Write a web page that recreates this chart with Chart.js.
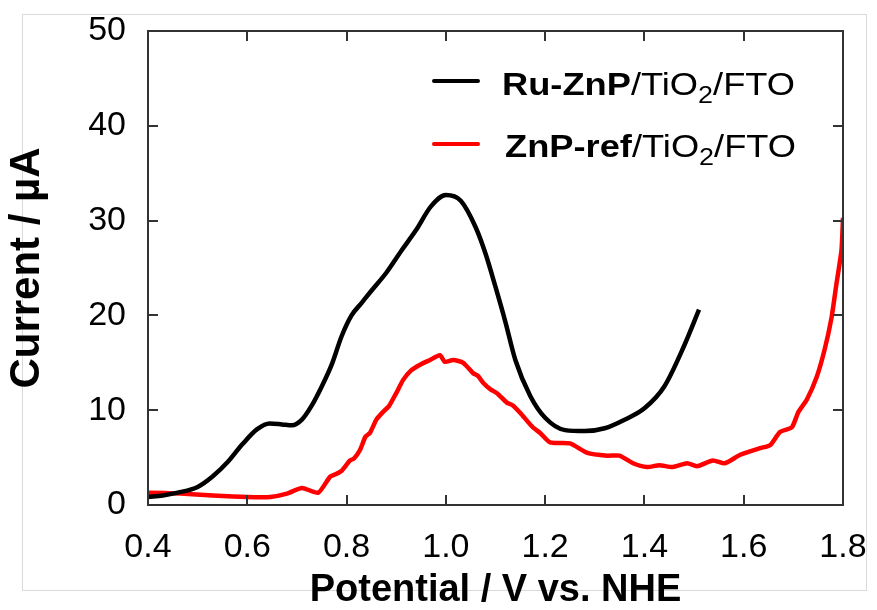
<!DOCTYPE html>
<html>
<head>
<meta charset="utf-8">
<script src="https://cdn.jsdelivr.net/npm/chart.js@4.4.1/dist/chart.umd.min.js"></script>
<style>
  html, body { margin: 0; padding: 0; background: #fff; }
  #wrap { width: 877px; height: 610px; }
</style>
</head>
<body>
<div id="wrap"><canvas id="cv" width="877" height="610"></canvas></div>
<script>
//================================ DATA

// Ru-ZnP/TiO2/FTO (smooth curve)
const ruX = [0.40, 0.43, 0.46, 0.50, 0.53, 0.56, 0.59, 0.62, 0.645, 0.67, 0.69, 0.71, 0.73, 0.75, 0.77,
  0.79, 0.81, 0.83, 0.85, 0.88, 0.91, 0.94, 0.97, 1.00, 1.03, 1.06, 1.08, 1.10, 1.12, 1.14, 1.17,
  1.20, 1.24, 1.28, 1.32, 1.36, 1.40, 1.44, 1.48, 1.51];
const ruY = [0.85, 1.0, 1.3, 1.9, 3.0, 4.5, 6.4, 8.0, 8.6, 8.5, 8.4, 9.0, 10.5, 12.5, 14.8,
  17.8, 20.0, 21.3, 22.6, 24.5, 26.8, 29.0, 31.5, 32.7, 32.1, 29.3, 26.5, 23.0, 19.3, 15.3, 11.5,
  9.2, 7.9, 7.8, 8.1, 9.0, 10.2, 12.5, 16.8, 20.6];

// ZnP-ref/TiO2/FTO (noisy curve)
const refX = [0.40, 0.465, 0.53, 0.60, 0.646, 0.68, 0.71, 0.743, 0.767, 0.78, 0.79, 0.807, 0.815, 0.827,
  0.838, 0.847, 0.86, 0.873, 0.885, 0.90, 0.914, 0.93, 0.948, 0.968, 0.988, 0.998, 1.015, 1.035,
  1.055, 1.065, 1.075, 1.09, 1.103, 1.123, 1.135, 1.15, 1.175, 1.19, 1.21, 1.25, 1.285, 1.325,
  1.35, 1.377, 1.405, 1.43, 1.457, 1.486, 1.506, 1.538, 1.562, 1.593, 1.633, 1.653, 1.673, 1.697,
  1.71, 1.727, 1.747, 1.763, 1.777, 1.787, 1.797, 1.80];
const refY = [1.3, 1.2, 1.0, 0.85, 0.85, 1.2, 1.8, 1.3, 3.0, 3.3, 3.6, 4.7, 4.9, 5.8,
  7.2, 7.6, 9.0, 9.8, 10.4, 11.8, 13.2, 14.2, 14.8, 15.3, 15.8, 15.1, 15.3, 15.0,
  13.9, 13.6, 12.9, 12.2, 11.8, 10.8, 10.5, 9.7, 8.2, 7.6, 6.6, 6.5, 5.5, 5.2,
  5.2, 4.4, 4.0, 4.2, 4.0, 4.4, 4.1, 4.7, 4.4, 5.3, 6.0, 6.3, 7.7, 8.2,
  9.8, 11.1, 13.5, 16.4, 19.8, 23.4, 26.9, 30.3];

const xTicks = [0.4, 0.6, 0.8, 1.0, 1.2, 1.4, 1.6, 1.8];
const yTicks = [0, 10, 20, 30, 40, 50];

const legendRows = [
  { color: '#000000', bold: 'Ru-ZnP', rest: '/TiO', sub: '2', tail: '/FTO' },
  { color: '#ff0000', bold: 'ZnP-ref', rest: '/TiO', sub: '2', tail: '/FTO' },
];

//================================ HELPERS

function toPoints (xs, ys) {
  const pts = [];
  for (let i = 0; i < xs.length; i++) {
    pts.push({ x: xs[i], y: ys[i] });
  }
  return pts;
}

const FONT = '"Liberation Sans", Arial, sans-serif';

// Frame box, inward ticks on all four sides, light outer border
const framePlugin = {
  id: 'frame',
  beforeDraw (chart) {
    const ctx = chart.ctx;
    ctx.save();
    ctx.strokeStyle = '#d9d9d9';
    ctx.lineWidth = 1;
    ctx.strokeRect(22.5, 14.5, 844, 576);
    ctx.restore();
  },
  afterDraw (chart) {
    const ctx = chart.ctx;
    const a = chart.chartArea;
    const xs = chart.scales.x;
    const ys = chart.scales.y;
    const len = 10;
    ctx.save();
    ctx.strokeStyle = '#333333';
    ctx.lineWidth = 2;
    ctx.strokeRect(a.left, a.top, a.right - a.left, a.bottom - a.top);
    ctx.beginPath();
    for (let i = 0; i < xTicks.length; i++) {
      const px = Math.round(xs.getPixelForValue(xTicks[i]));
      ctx.moveTo(px, a.bottom);
      ctx.lineTo(px, a.bottom - len);
      ctx.moveTo(px, a.top);
      ctx.lineTo(px, a.top + len);
    }
    for (let j = 0; j < yTicks.length; j++) {
      const py = Math.round(ys.getPixelForValue(yTicks[j]));
      ctx.moveTo(a.left, py);
      ctx.lineTo(a.left + len, py);
      ctx.moveTo(a.right, py);
      ctx.lineTo(a.right - len, py);
    }
    ctx.stroke();
    ctx.restore();
  },
};

// Legend with bold part and subscript
const legendPlugin = {
  id: 'richLegend',
  afterDraw (chart) {
    const ctx = chart.ctx;
    const lineY = [81, 144];
    const textX = [502, 505];
    const baseY = [95, 157];
    ctx.save();
    for (let i = 0; i < legendRows.length; i++) {
      const r = legendRows[i];
      ctx.strokeStyle = r.color;
      ctx.lineWidth = 4;
      ctx.lineCap = 'round';
      ctx.beginPath();
      ctx.moveTo(434, lineY[i]);
      ctx.lineTo(478, lineY[i]);
      ctx.stroke();

      ctx.save();
      ctx.translate(textX[i], baseY[i]);
      ctx.scale(1.17, 1);
      ctx.fillStyle = '#000';
      ctx.textBaseline = 'alphabetic';
      ctx.textAlign = 'left';
      let x = 0;
      ctx.font = 'bold 31px ' + FONT;
      ctx.fillText(r.bold, x, 0);
      x += ctx.measureText(r.bold).width;
      ctx.font = '31px ' + FONT;
      ctx.fillText(r.rest, x, 0);
      x += ctx.measureText(r.rest).width;
      ctx.font = '23px ' + FONT;
      ctx.fillText(r.sub, x, 8);
      x += ctx.measureText(r.sub).width;
      ctx.font = '31px ' + FONT;
      ctx.fillText(r.tail, x, 0);
      ctx.restore();
    }
    ctx.restore();
  },
};

//================================ CHART

new Chart(document.getElementById('cv'), {
  type: 'line',
  data: {
    datasets: [
      {
        label: 'Ru-ZnP/TiO2/FTO',
        data: toPoints(ruX, ruY),
        borderColor: '#000000',
        borderWidth: 4.5,
        pointRadius: 0,
        tension: 0.4,
        cubicInterpolationMode: 'monotone',
        fill: false,
      },
      {
        label: 'ZnP-ref/TiO2/FTO',
        data: toPoints(refX, refY),
        borderColor: '#ff0000',
        borderWidth: 4.5,
        pointRadius: 0,
        tension: 0.2,
        fill: false,
      },
    ],
  },
  options: {
    responsive: false,
    animation: false,
    layout: {
      padding: { top: 31, right: 34, bottom: 0, left: 0 },
    },
    plugins: {
      legend: { display: false },
      tooltip: { enabled: false },
    },
    scales: {
      x: {
        type: 'linear',
        min: 0.4,
        max: 1.8,
        afterBuildTicks (s) {
          const t = [];
          for (let i = 0; i < xTicks.length; i++) t.push({ value: xTicks[i] });
          s.ticks = t;
        },
        afterFit (s) {
          s.height = 105;
          s.paddingLeft = 0;
          s.paddingRight = 0;
        },
        ticks: {
          color: '#000',
          padding: 22,
          maxRotation: 0,
          autoSkip: false,
          font: { family: FONT, size: 34, lineHeight: 1.2 },
          callback: (v) => Number(v).toFixed(1),
        },
        grid: { display: false, drawTicks: false },
        border: { display: false },
        title: {
          display: true,
          text: 'Potential / V vs. NHE',
          color: '#000',
          padding: { top: 0, bottom: 0 },
          font: { family: FONT, size: 38, weight: 'bold', lineHeight: 1 },
        },
      },
      y: {
        min: 0,
        max: 50,
        afterBuildTicks (s) {
          const t = [];
          for (let i = 0; i < yTicks.length; i++) t.push({ value: yTicks[i] });
          s.ticks = t;
        },
        afterFit (s) {
          s.width = 148;
          s.paddingTop = 0;
          s.paddingBottom = 0;
        },
        ticks: {
          color: '#000',
          padding: 22,
          font: { family: FONT, size: 34, lineHeight: 1.2 },
        },
        grid: { display: false, drawTicks: false },
        border: { display: false },
        title: {
          display: true,
          text: 'Current / µA',
          color: '#000',
          padding: { top: 6, bottom: 0 },
          font: { family: FONT, size: 42, weight: 'bold', lineHeight: 1 },
        },
      },
    },
  },
  plugins: [framePlugin, legendPlugin],
});
</script>
</body>
</html>
